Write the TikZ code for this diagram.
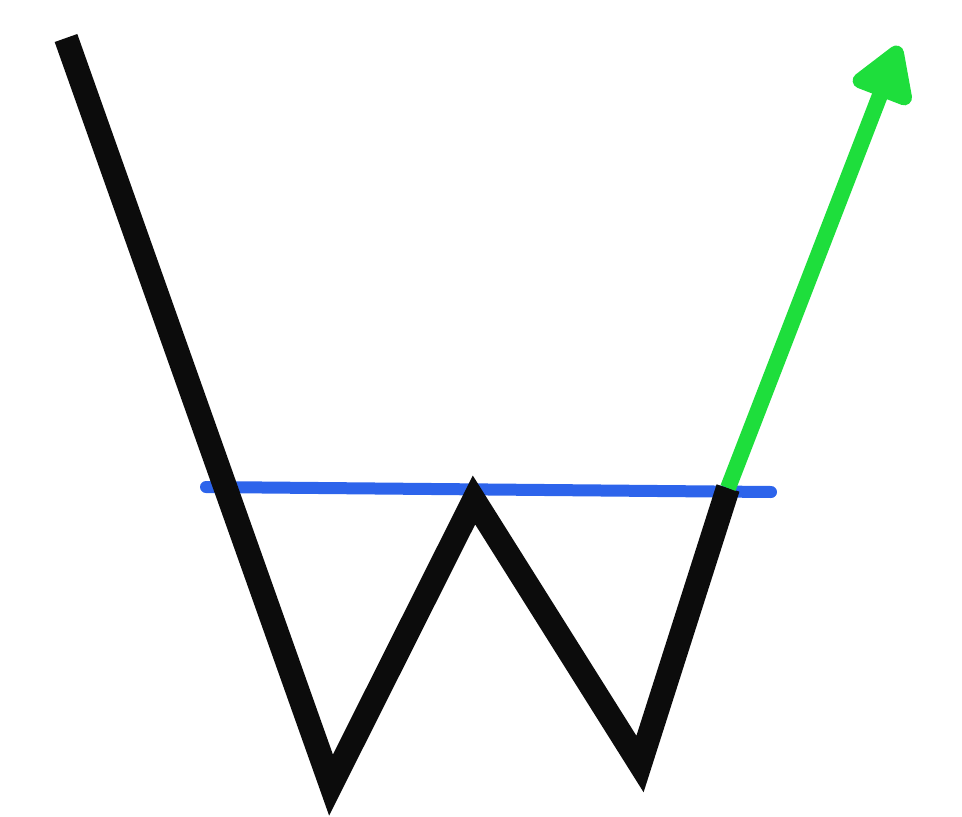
\documentclass[tikz,border=0pt]{standalone}
\usetikzlibrary{arrows.meta}
\definecolor{wblack}{RGB}{12,12,12}
\definecolor{wblue}{RGB}{45,100,235}
\definecolor{wgreen}{RGB}{30,222,60}
\tikzset{
  priceline/.style={draw=wblack, line width=24pt, line join=miter, miter limit=10},
  neckline/.style={draw=wblue, line width=12pt, line cap=round},
  breakout/.style={draw=wgreen, line width=16pt, -{Triangle[length=62pt,width=70pt,round]}}
}
\begin{document}
\begin{tikzpicture}[x=1pt,y=-1pt]
\useasboundingbox (0,0) rectangle (962,817);
\coordinate (start) at (66,38);
\coordinate (low1) at (331,785);
\coordinate (peak) at (474,500);
\coordinate (low2) at (640,764);
\coordinate (brk) at (728,488);
\coordinate (tip) at (899,46);
\coordinate (nl) at (206,487);
\coordinate (nr) at (771,492);
\draw[neckline] (nl) -- (nr);
\draw[priceline] (start) -- (low1) -- (peak) -- (low2) -- (brk);
\draw[breakout] (brk) -- (tip);
\end{tikzpicture}
\end{document}
